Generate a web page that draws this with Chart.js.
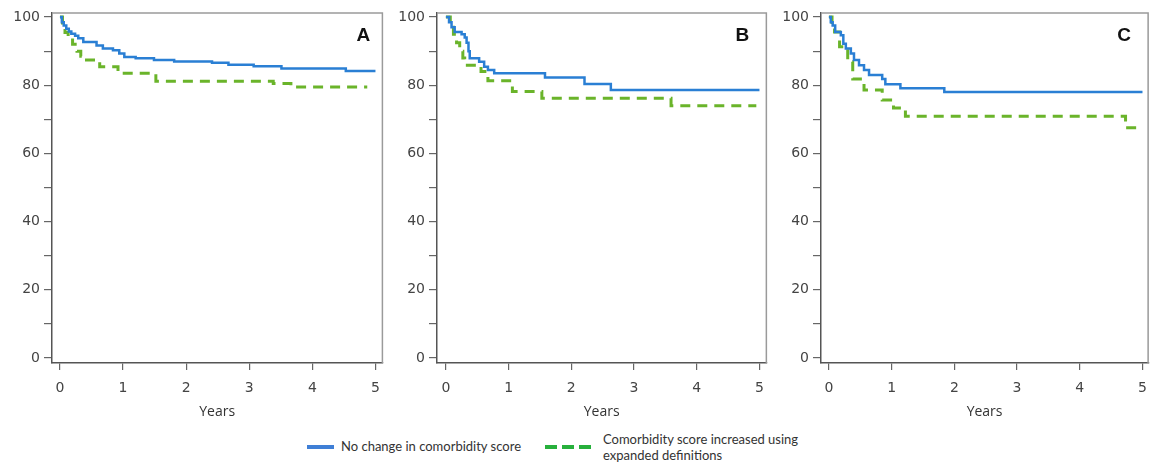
<!DOCTYPE html>
<html>
<head>
<meta charset="utf-8">
<script src="https://cdn.jsdelivr.net/npm/chart.js@4/dist/chart.umd.min.js"></script>
<style>
  body { margin: 0; background: #fff; width: 1157px; height: 468px; position: relative; overflow: hidden; font-family: Lato, "Open Sans", sans-serif; color: #333; }
  .panel { position: absolute; top: 0; height: 428px; }
  #legend { position: absolute; top: 428px; left: 0; width: 1157px; height: 40px; font-size: 13px; }
  .item { position: absolute; }
  .swatch { position: absolute; height: 4px; }
</style>
</head>
<body>
<div class="panel" style="left:0;width:390px"><canvas id="chartA"></canvas></div>
<div class="panel" style="left:390px;width:384px"><canvas id="chartB"></canvas></div>
<div class="panel" style="left:775px;width:382px"><canvas id="chartC"></canvas></div>

<div id="legend">
  <div class="swatch" style="left:307px;top:17px;width:27px;background:#3f7fd6"></div>
  <div class="item" style="left:341px;top:10px">No change in comorbidity score</div>
  <div class="swatch" style="left:545px;top:17px;width:12px;background:#27b03c"></div>
  <div class="swatch" style="left:562px;top:17px;width:12px;background:#27b03c"></div>
  <div class="swatch" style="left:579px;top:17px;width:12px;background:#27b03c"></div>
  <div class="item" style="left:603px;top:3px;line-height:16px">Comorbidity score increased using<br>expanded definitions</div>
</div>

<script>
// Eixo x (anos) e eixo y (% sobrevida)
const xTicks = [0, 1, 2, 3, 4, 5];
const yLabels = [0, 20, 40, 60, 80, 100];

const legendLabels = ['No change in comorbidity score', 'Comorbidity score increased using expanded definitions'];

// Painel A
const aBlueT = [0, 0.03, 0.06, 0.1, 0.14, 0.18, 0.24, 0.29, 0.37, 0.58, 0.68, 0.84, 0.94, 1.02, 1.2, 1.49, 1.81, 2.41, 2.67, 3.07, 3.51, 4.53, 5.0];
const aBlueS = [100, 98.5, 97.5, 96.6, 95.8, 95.1, 94.5, 93.8, 92.7, 91.7, 90.8, 90.3, 89.3, 88.3, 87.9, 87.4, 87.0, 86.6, 86.0, 85.6, 84.9, 84.2, 84.2];
const aGreenT = [0, 0.04, 0.08, 0.13, 0.2, 0.27, 0.33, 0.37, 0.63, 0.92, 1.52, 3.38, 3.66, 4.87];
const aGreenS = [100, 97.5, 95.5, 94, 92, 90, 88.5, 87.4, 85.4, 83.5, 81.2, 80.5, 79.5, 79.5];

// Painel B
const bBlueT = [0, 0.05, 0.09, 0.14, 0.25, 0.3, 0.33, 0.36, 0.38, 0.53, 0.61, 0.67, 0.77, 1.58, 2.21, 2.63, 5.0];
const bBlueS = [100, 98.5, 97, 95.6, 95, 94, 92.5, 90, 87.9, 86.9, 85.4, 84.5, 83.5, 82.3, 80.4, 78.6, 78.6];
const bGreenT = [0, 0.07, 0.12, 0.17, 0.22, 0.27, 0.3, 0.56, 0.67, 1.06, 1.53, 3.59, 4.95];
const bGreenS = [100, 97, 95, 92.5, 90, 88, 85.9, 84, 81.3, 78.2, 76.2, 74, 74];

// Painel C
const cBlueT = [0, 0.03, 0.06, 0.1, 0.19, 0.23, 0.27, 0.35, 0.4, 0.48, 0.56, 0.64, 0.85, 0.9, 1.14, 1.84, 5.0];
const cBlueS = [100, 98.5, 97.5, 95.6, 94.7, 92.2, 90.8, 89.3, 87.4, 85.9, 84.5, 83, 81.8, 80.3, 79.1, 78, 78];
const cGreenT = [0, 0.05, 0.09, 0.17, 0.3, 0.38, 0.56, 0.85, 1.03, 1.22, 4.73, 5.0];
const cGreenS = [100, 97.5, 95.6, 91.3, 86.9, 81.8, 78.6, 75.7, 73.3, 70.9, 67.5, 67.5];

function pontos(t, s) {
    return t.map((v, i) => ({ x: v, y: s[i] }));
}

// desenha a moldura cinza (topo e direita) e a letra do painel
const molduraPlugin = {
    id: 'moldura',
    afterDraw(chart, args, opts) {
        const { ctx, chartArea: a } = chart;
        ctx.save();
        ctx.strokeStyle = '#9a9a9a';
        ctx.lineWidth = 1.5;
        ctx.beginPath();
        ctx.moveTo(a.left, a.top);
        ctx.lineTo(a.right, a.top);
        ctx.lineTo(a.right, a.bottom);
        ctx.stroke();
        ctx.fillStyle = '#111';
        ctx.font = 'bold 19px "Liberation Sans", Arial, sans-serif';
        ctx.textAlign = 'center';
        ctx.textBaseline = 'middle';
        ctx.fillText(opts.letra, a.right - opts.dx, a.top + 23);
        ctx.restore();
    }
};

function criarGrafico(id, letra, dx, azul, verde, xmin, xmax, larguraY) {
    const config = {
        type: 'scatter',
        data: {
            datasets: [{
                label: legendLabels[0],
                data: azul,
                showLine: true,
                stepped: true,
                borderColor: '#2a7fd4',
                borderWidth: 2.5,
                pointRadius: 0,
                fill: false
            },
            {
                label: legendLabels[1],
                data: verde,
                showLine: true,
                stepped: true,
                borderColor: '#6ab42a',
                borderWidth: 3,
                borderDash: [10, 7],
                pointRadius: 0,
                fill: false
            }]
        },
        options: {
            responsive: true,
            maintainAspectRatio: false,
            animation: false,
            layout: { padding: { top: 13, right: 4, left: 0, bottom: 0 } },
            plugins: {
                legend: { display: false },
                tooltip: { enabled: false },
                moldura: { letra: letra, dx: dx }
            },
            scales: {
                x: {
                    type: 'linear',
                    min: xmin,
                    max: xmax,
                    afterBuildTicks: (s) => { s.ticks = xTicks.map(v => ({ value: v })); },
                    afterFit: (s) => { s.height = 65; },
                    border: { color: '#555', width: 1.5 },
                    grid: { drawOnChartArea: false, drawTicks: true, tickLength: 7, color: '#666', lineWidth: 1.2 },
                    ticks: { color: '#444', padding: 10, font: { family: '"DejaVu Sans"', size: 14 } },
                    title: { display: true, text: 'Years', color: '#333', padding: { top: 0, bottom: 8 }, font: { family: '"Open Sans"', size: 14 } }
                },
                y: {
                    min: -1.5,
                    max: 101.2,
                    afterFit: (s) => { s.width = larguraY; },
                    border: { color: '#555', width: 1.5 },
                    grid: { drawOnChartArea: false, drawTicks: true, tickLength: 8, color: '#666', lineWidth: 1.2 },
                    ticks: {
                        stepSize: 10,
                        includeBounds: false,
                        color: '#444',
                        padding: 4,
                        font: { family: '"DejaVu Sans"', size: 14 },
                        callback: (v) => yLabels.includes(v) ? v : ''
                    }
                }
            }
        },
        plugins: [molduraPlugin]
    };
    return new Chart(document.getElementById(id), config);
}

criarGrafico('chartA', 'A', 19, pontos(aBlueT, aBlueS), pontos(aGreenT, aGreenS), -0.126, 5.11, 52);
criarGrafico('chartB', 'B', 24, pontos(bBlueT, bBlueS), pontos(bGreenT, bGreenS), -0.142, 5.11, 47);
criarGrafico('chartC', 'C', 24, pontos(cBlueT, cBlueS), pontos(cGreenT, cGreenS), -0.126, 5.09, 46);
</script>
</body>
</html>
